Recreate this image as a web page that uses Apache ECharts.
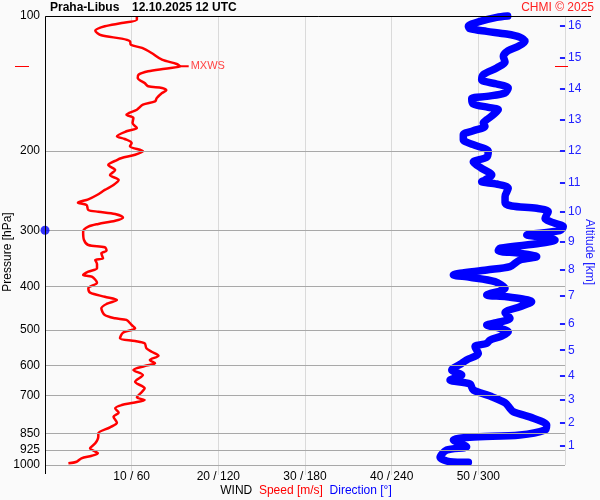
<!DOCTYPE html>
<html><head><meta charset="utf-8">
<script src="https://cdn.jsdelivr.net/npm/echarts@6/dist/echarts.min.js"></script>
<style>html,body{margin:0;padding:0;background:#fafafa}#c{width:600px;height:500px}</style>
</head><body><div id="c"></div>
<script>
// ---- data ----
const stationTitle = 'Praha-Libus';
const timeTitle = '12.10.2025 12 UTC';
const pressureTicks = [100, 200, 300, 400, 500, 600, 700, 850, 925, 1000];
const altitudeKm = [1, 2, 3, 4, 5, 6, 7, 8, 9, 10, 11, 12, 13, 14, 15, 16];
const altitudePressure = [907, 807, 714, 633, 555, 484, 420, 367, 318, 273, 235, 200, 170, 145, 124, 105];
const mxwsPressure = 129.4;
const mxwsSpeed = 15.6;
const tropopausePressure = 300;

const speedPressure = [100, 101.9, 103.7, 105.4, 107.8, 110.4, 112.3, 113.8, 115.9, 117.8, 120.9, 125.1, 127.9, 129.4, 131.0, 132.8, 135.1, 137.4, 141.0, 143.4, 144.6, 146.3, 148.4, 152.3, 154.9, 157.6, 161.7, 165.9, 168.7, 173.1, 177.6, 180.6, 185.3, 187.9, 191.8, 195.1, 200.1, 203.7, 207.2, 209.3, 214.7, 220.3, 226.0, 231.9, 237.9, 244.0, 250.4, 256.0, 260.5, 263.6, 270.4, 272.8, 276.1, 281.3, 285.7, 290.5, 294.6, 302.2, 315.4, 323.6, 327.4, 333.2, 337.7, 346.4, 349.4, 356.6, 364.6, 371.1, 377.4, 380.7, 392.6, 404.1, 413.3, 421.9, 429.1, 437.9, 447.7, 463.4, 471.3, 475.3, 487.7, 496.1, 507.4, 522.2, 529.5, 535.8, 549.7, 559.4, 571.0, 583.7, 593.6, 602.0, 614.5, 630.5, 652.5, 675.0, 686.8, 706.9, 716.8, 726.7, 735.4, 747.9, 764.9, 780.8, 805.3, 824.2, 850.0, 865.0, 894.8, 918.0, 941.7, 953.5, 966.3, 983.4, 991.3];
const speedValues = [10.6, 10.6, 8.85, 6.9, 5.8, 6.5, 8.85, 9.8, 9.9, 11.2, 12.3, 13.5, 15.2, 15.6, 13.85, 11.9, 10.8, 10.7, 11.5, 11.9, 13.5, 14.0, 13.5, 12.9, 12.7, 11.3, 10.6, 9.4, 10.2, 10.1, 10.6, 9.4, 8.3, 9.2, 10.0, 9.8, 11.3, 10.4, 8.85, 8.3, 7.3, 8.1, 7.5, 8.5, 7.9, 6.9, 6.0, 5.0, 3.8, 4.8, 5.0, 6.15, 8.1, 9.0, 8.1, 6.15, 5.0, 4.4, 4.5, 5.0, 6.9, 7.1, 6.5, 6.7, 5.8, 6.0, 6.0, 5.0, 4.4, 5.4, 6.0, 5.0, 5.2, 6.9, 8.3, 7.1, 6.5, 6.9, 8.1, 9.4, 10.0, 10.4, 9.0, 8.65, 10.4, 11.5, 11.7, 12.3, 13.1, 12.1, 12.7, 11.5, 10.2, 11.3, 10.4, 11.5, 11.2, 10.6, 11.5, 10.2, 8.85, 8.1, 8.5, 7.9, 8.3, 7.5, 6.15, 6.15, 5.8, 5.2, 6.1, 5.4, 4.2, 3.65, 2.7];

const dirPressure = [100, 100.7, 102.8, 105.4, 106.7, 108.2, 109.7, 111.5, 113.8, 116.8, 119.5, 122.9, 126.6, 130.5, 135.1, 138.7, 141.7, 144.6, 148.4, 151.0, 152.8, 157.0, 159.7, 161.7, 165.9, 170.2, 173.1, 176.1, 180.1, 183.8, 188.6, 193.5, 200.1, 206.4, 211.4, 218.4, 226.0, 231.9, 233.9, 236.7, 241.9, 252.6, 260.5, 265.0, 268.1, 272.8, 282.2, 288.6, 294.6, 300.7, 307.4, 311.0, 315.4, 320.8, 329.1, 333.2, 337.7, 343.6, 349.4, 361.6, 367.8, 377.4, 381.9, 390.6, 404.1, 418.2, 421.9, 432.8, 444.0, 457.9, 471.3, 482.1, 487.7, 496.1, 504.9, 516.1, 526.8, 535.8, 545.1, 563.9, 583.7, 593.6, 614.5, 630.5, 646.8, 660.2, 680.8, 702.2, 726.7, 747.9, 760.9, 787.0, 814.5, 835.6, 857.5, 867.6, 879.7, 910.5, 926.2, 961.4, 983.4, 986.3];
const dirValues = [320.3, 312.7, 301.2, 293.1, 294.2, 305.8, 319.6, 328.8, 332.3, 327.7, 320.7, 317.3, 318.5, 312.7, 303.4, 302.3, 312.7, 320.7, 318.5, 305.8, 295.4, 296.5, 306.9, 313.8, 310.4, 305.8, 303.4, 304.6, 296.5, 289.6, 289.6, 296.5, 306.9, 305.8, 296.5, 302.3, 309.3, 304.6, 302.3, 312.7, 320.7, 318.5, 318.5, 323.1, 340.4, 348.4, 346.2, 351.9, 358.8, 356.5, 333.5, 345.0, 353.1, 342.7, 315.0, 313.8, 328.8, 340.4, 328.8, 321.9, 305.8, 282.7, 294.2, 311.5, 318.5, 305.8, 319.6, 336.9, 328.8, 318.5, 321.9, 312.7, 305.8, 315.0, 320.7, 316.2, 308.1, 305.8, 297.7, 300.0, 291.9, 288.5, 281.6, 288.5, 280.4, 294.2, 296.5, 308.1, 318.5, 321.9, 324.2, 338.1, 347.3, 346.2, 328.8, 294.2, 282.7, 291.9, 278.1, 273.5, 280.4, 293.1];

// ---- chart ----
const FONT = '"Liberation Sans", Arial, sans-serif';
const chart = echarts.init(document.getElementById('c'), null, {renderer: 'canvas'});

const speedData = speedPressure.map((p, i) => [speedValues[i], p]);
const dirData = dirPressure.map((p, i) => [dirValues[i], p]);

const option = {
  backgroundColor: '#fafafa',
  animation: false,
  textStyle: {fontFamily: FONT},
  grid: {left: 45, right: 35, top: 16, bottom: 35},
  xAxis: [{
    type: 'value', min: 0, max: 60, interval: 10,
    axisLine: {show: false},
    axisTick: {show: true, length: 10, lineStyle: {color: '#dadada'}},
    splitLine: {show: true, lineStyle: {color: '#dadada', width: 1}},
    axisLabel: {
      color: '#000', fontSize: 12, fontFamily: FONT, margin: 6,
      showMinLabel: false, showMaxLabel: false,
      formatter: v => (v <= 0 || v >= 60) ? '' : v + ' / ' + (v * 6)
    }
  }, {
    type: 'value', min: 0, max: 360, show: false
  }],
  yAxis: [{
    type: 'log', logBase: 10, min: 100, max: 1000, inverse: true,
    axisLine: {show: false}, axisTick: {show: false},
    axisLabel: {show: false}, splitLine: {show: false}
  }],
  series: [
    {
      name: 'grid', type: 'line', data: [], z: 1, silent: true,
      markLine: {
        silent: true, symbol: 'none', animation: false,
        lineStyle: {color: '#a8a8a8', type: 'solid', width: 1},
        label: {show: true, position: 'start', distance: 5, color: '#000', fontSize: 12, fontFamily: FONT, formatter: p => String(p.value)},
        emphasis: {disabled: true},
        data: pressureTicks.map(p => ({yAxis: p}))
      }
    },
    {
      name: 'Direction', type: 'line', xAxisIndex: 1, yAxisIndex: 0,
      data: dirData, showSymbol: false, smooth: 0.3, clip: false, z: 3,
      lineStyle: {color: '#0000ff', width: 7.5, cap: 'round', join: 'round'},
      itemStyle: {color: '#0000ff'},
      markLine: {
        silent: true, symbol: 'none', animation: false,
        lineStyle: {color: '#2222ff', type: 'solid', width: 2},
        label: {show: true, position: 'end', distance: 3, color: '#2222ff', fontSize: 12, fontFamily: FONT, formatter: '{b}'},
        emphasis: {disabled: true},
        data: altitudeKm.map((a, i) => [
          {coord: [356.5, altitudePressure[i]], name: String(a)},
          {coord: [360, altitudePressure[i]]}
        ])
      }
    },
    {
      name: 'Speed', type: 'line', xAxisIndex: 0, yAxisIndex: 0,
      data: speedData, showSymbol: false, smooth: 0.3, clip: false, z: 4,
      lineStyle: {color: '#ff0000', width: 2.5, join: 'round'},
      itemStyle: {color: '#ff0000'},
      markPoint: {
        silent: true, animation: false,
        symbol: 'rect', symbolSize: [9, 2], symbolOffset: [4, 0],
        itemStyle: {color: '#ff0000'},
        label: {show: true, position: 'right', distance: 2, formatter: 'MXWS', color: '#ff4444', fontSize: 11, fontFamily: FONT},
        data: [{coord: [mxwsSpeed, mxwsPressure]}]
      }
    },
    {
      name: 'Tropopause', type: 'scatter', xAxisIndex: 0, yAxisIndex: 0,
      data: [[0, tropopausePressure]], symbol: 'circle', symbolSize: 9, clip: false, z: 6,
      itemStyle: {color: '#0000ff'}, silent: true
    }
  ],
  graphic: []
};
chart.setOption(option);

const pMx = chart.convertToPixel({xAxisIndex: 0, yAxisIndex: 0}, [0, mxwsPressure]);
const pTop = chart.convertToPixel({xAxisIndex: 0, yAxisIndex: 0}, [0, 100]);
const pBot = chart.convertToPixel({xAxisIndex: 0, yAxisIndex: 0}, [60, 1000]);
const yTop = Math.round(pTop[1]) + 0.5;
const xLeft = Math.round(pTop[0]) + 0.5;
const yMx = Math.round(pMx[1]) + 0.5;
const midX = (pTop[0] + pBot[0]) / 2;

chart.setOption({
  graphic: [
    {type: 'line', shape: {x1: xLeft, y1: yTop, x2: 591, y2: yTop}, style: {stroke: '#000', lineWidth: 1}, z: 10},
    {type: 'line', shape: {x1: xLeft, y1: yTop, x2: xLeft, y2: pBot[1] + 9}, style: {stroke: '#000', lineWidth: 1}, z: 10},
    {type: 'line', shape: {x1: 15, y1: yMx, x2: 29, y2: yMx}, style: {stroke: '#ff0000', lineWidth: 1}, z: 10},
    {type: 'line', shape: {x1: 555, y1: yMx, x2: 568, y2: yMx}, style: {stroke: '#ff0000', lineWidth: 1}, z: 10},
    {type: 'text', x: 50, y: 8, style: {text: stationTitle, font: 'bold 12px ' + FONT, fill: '#000', verticalAlign: 'middle'}},
    {type: 'text', x: 132, y: 8, style: {text: timeTitle, font: 'bold 12px ' + FONT, fill: '#000', verticalAlign: 'middle'}},
    {type: 'text', x: 594, y: 8, style: {text: 'CHMI © 2025', font: '12px ' + FONT, fill: '#ff2020', align: 'right', verticalAlign: 'middle'}},
    {type: 'text', x: 8, y: 252, rotation: Math.PI / 2, style: {text: 'Pressure [hPa]', font: '12px ' + FONT, fill: '#000', align: 'center', verticalAlign: 'middle'}},
    {type: 'text', x: 589, y: 252, rotation: -Math.PI / 2, style: {text: 'Altitude [km]', font: '12px ' + FONT, fill: '#2222ff', align: 'center', verticalAlign: 'middle'}},
    {type: 'text', x: midX + 1, y: 491, style: {
      text: '{a|WIND}  {b|Speed [m/s]}  {c|Direction [°]}', align: 'center', verticalAlign: 'middle',
      rich: {
        a: {font: '12px ' + FONT, fill: '#000'},
        b: {font: '12px ' + FONT, fill: '#ff0000'},
        c: {font: '12px ' + FONT, fill: '#0000ff'}
      }
    }}
  ]
});
</script>
</body></html>
